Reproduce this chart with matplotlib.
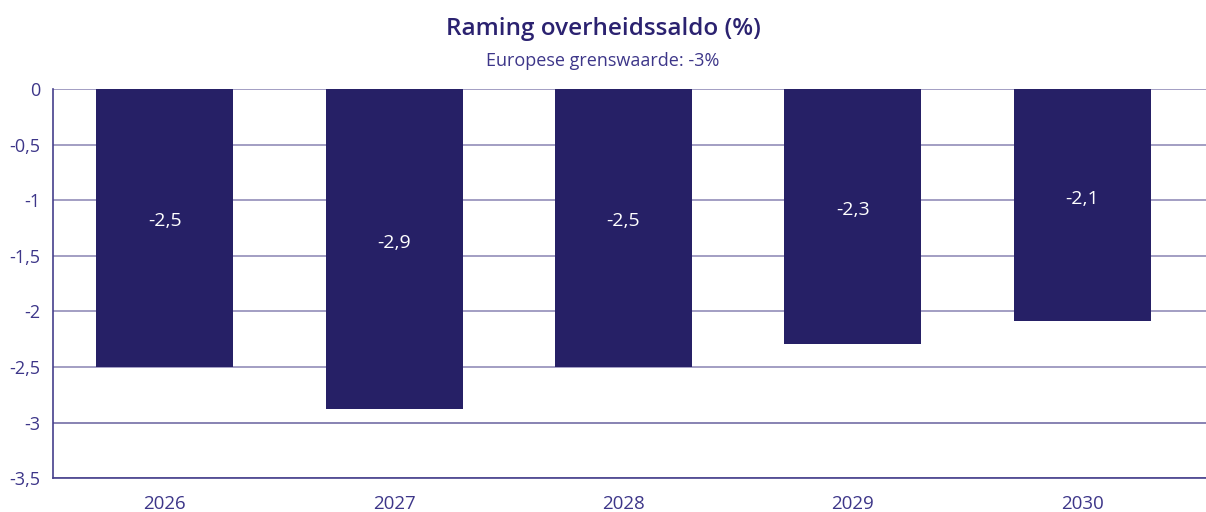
import matplotlib.pyplot as plt

years = ['2026', '2027', '2028', '2029', '2030']
saldo = [-2.5, -2.88, -2.5, -2.29, -2.09]
labels = ['-2,5', '-2,9', '-2,5', '-2,3', '-2,1']
yticks = [0, -0.5, -1, -1.5, -2, -2.5, -3, -3.5]
ytick_labels = ['0', '-0,5', '-1', '-1,5', '-2', '-2,5', '-3', '-3,5']
eu_limit = -3

bar_color = '#262066'
text_color = '#3d3689'
grid_color = '#928db9'

plt.rcParams['font.family'] = ['Open Sans', 'DejaVu Sans']

fig = plt.figure(figsize=(12.06, 5.12), dpi=100)
ax = fig.add_axes([0.044, 0.066, 0.956, 0.760])

x = range(len(years))
ax.bar(x, saldo, width=0.598, color=bar_color, zorder=3)
for i in x:
    ax.text(i, saldo[i] / 2 + 0.06, labels[i], color='white', fontsize=14,
            ha='center', va='center', zorder=4)

ax.set_ylim(-3.5, 0)
ax.set_xlim(-0.487, 4.54)
ax.set_yticks(yticks)
ax.set_yticklabels(ytick_labels)
ax.set_xticks(list(x))
ax.set_xticklabels(years)
ax.tick_params(axis='both', length=0, labelsize=13, colors=text_color)
ax.tick_params(axis='x', labelsize=13.5, pad=12)
ax.tick_params(axis='y', pad=9)

ax.grid(axis='y', color=grid_color, linewidth=1.2, zorder=0)
ax.axhline(eu_limit, color='#463f8c', linewidth=1.2, zorder=1)
for s in ['top', 'right']:
    ax.spines[s].set_visible(False)
ax.spines['left'].set_color('#463f8c')
ax.spines['bottom'].set_color('#463f8c')
ax.spines['left'].set_linewidth(1.2)
ax.spines['bottom'].set_linewidth(1.2)

fig.text(0.5, 0.943, 'Raming overheidssaldo (%)', ha='center', va='center',
         fontsize=17.5, fontweight='semibold', color='#2b2270')
fig.text(0.5, 0.881, 'Europese grenswaarde: -3%', ha='center', va='center',
         fontsize=13, color=text_color)

fig.savefig('out.png', dpi=100)
